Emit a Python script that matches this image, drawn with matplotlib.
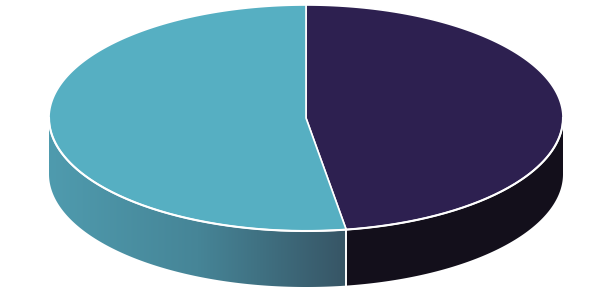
import numpy as np
import matplotlib
matplotlib.use("Agg")
import matplotlib.pyplot as plt
from matplotlib.patches import Polygon
from matplotlib.colors import LinearSegmentedColormap

# slice shares (dark slice starts at 12 o'clock, runs clockwise)
labels = ["Dark", "Light"]
values = [47.5, 52.5]
top_colors = ["#2d2050", "#56afc2"]

# ellipse geometry in pixels
cx, cy = 306, 118
a, b = 257, 113
depth = 56

fig = plt.figure(figsize=(6.12, 2.93), dpi=100)
ax = fig.add_axes([0, 0, 1, 1])
ax.set_xlim(0, 612)
ax.set_ylim(293, 0)
ax.axis("off")


def pt(t, dy=0):
    return cx + a * np.cos(t), cy - b * np.sin(t) + dy


fracs = np.array(values) / sum(values)
starts = np.pi / 2 - np.concatenate([[0], np.cumsum(fracs)[:-1]]) * 2 * np.pi
ends = starts - fracs * 2 * np.pi

# side walls (front half only: sin t < 0, i.e. t in (-pi, 0))
grad_cmap = LinearSegmentedColormap.from_list("g", ["#4f9bae", "#468597", "#375565"])
for i in range(len(values)):
    s, e = starts[i], ends[i]
    # normalise into a window and intersect with [-pi, 0]
    lo, hi = min(s, e), max(s, e)
    segs = []
    for shift in (-2 * np.pi, 0, 2 * np.pi):
        l2, h2 = max(lo + shift, -np.pi), min(hi + shift, 0)
        if h2 > l2:
            segs.append((l2, h2))
    for l2, h2 in segs:
        t = np.linspace(l2, h2, 200)
        x1, y1 = pt(t)
        x2, y2 = pt(t[::-1], depth)
        poly = Polygon(np.column_stack([np.r_[x1, x2], np.r_[y1, y2]]),
                       closed=True, facecolor="#130f1b" if i == 0 else "none",
                       edgecolor="none", zorder=1)
        ax.add_patch(poly)
        if i == 1:
            xs = np.r_[x1, x2]
            grad = np.linspace(0, 1, 256).reshape(1, -1)
            im = ax.imshow(grad, cmap=grad_cmap, aspect="auto",
                           extent=[xs.min(), xs.max(), cy + b + depth + 2, cy - 2],
                           zorder=1, interpolation="bilinear")
            im.set_clip_path(poly)
        # vertical split line on side
        for tt in (l2, h2):
            if -np.pi < tt < 0:
                x0, y0 = pt(tt)
                ax.plot([x0, x0], [y0, y0 + depth], color="white", lw=1.2, zorder=3)

# top faces
for i in range(len(values)):
    t = np.linspace(starts[i], ends[i], 300)
    x, y = pt(t)
    verts = np.column_stack([np.r_[cx, x], np.r_[cy, y]])
    ax.add_patch(Polygon(verts, closed=True, facecolor=top_colors[i],
                         edgecolor="white", lw=1.2, joinstyle="round", zorder=2))

# white rim along the front of the top face
t = np.linspace(-np.pi, 0, 300)
x, y = pt(t)
ax.plot(x, y, color="white", lw=1.5, zorder=3)

fig.savefig("out.png", dpi=100)
